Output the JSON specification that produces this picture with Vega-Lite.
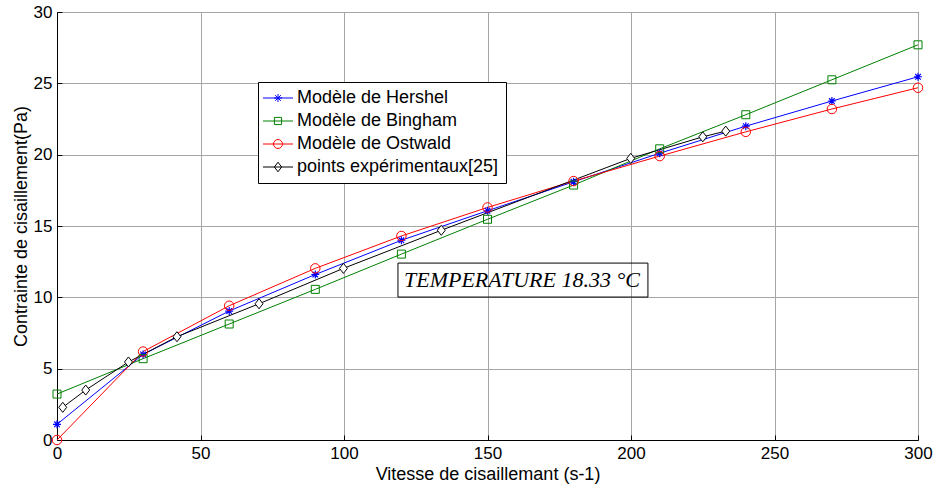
{
  "$schema": "https://vega.github.io/schema/vega-lite/v6.json",
  "width": 861,
  "height": 428,
  "autosize": {"type": "none"},
  "padding": {"left": 57, "top": 12, "right": 21, "bottom": 48},
  "background": "white",
  "config": {
    "view": {"stroke": "black", "strokeWidth": 1},
    "font": "Liberation Sans",
    "axis": {
      "labelFont": "Liberation Sans",
      "titleFont": "Liberation Sans",
      "labelFontSize": 17,
      "titleFontSize": 18,
      "titleFontWeight": "normal",
      "labelColor": "black",
      "titleColor": "black",
      "domainColor": "black",
      "domainWidth": 1,
      "gridColor": "#a6a6a6",
      "gridWidth": 1,
      "gridOpacity": 1,
      "tickColor": "black",
      "tickSize": -5,
      "tickWidth": 1
    },
    "legend": {
      "labelFont": "Liberation Sans",
      "labelFontSize": 18,
      "labelColor": "black",
      "labelLimit": 400,
      "strokeColor": "black",
      "fillColor": "white",
      "padding": 7,
      "symbolOffset": 4,
      "labelOffset": 10,
      "rowPadding": 5,
      "symbolSize": 256,
      "symbolStrokeWidth": 1,
      "symbolFillColor": "transparent",
      "cornerRadius": 0
    }
  },
  "datasets": {
    "curves": [
      {"series": "Modèle de Hershel", "x": 0, "y": 1.1},
      {"series": "Modèle de Hershel", "x": 30, "y": 6.0},
      {"series": "Modèle de Hershel", "x": 60, "y": 9.04},
      {"series": "Modèle de Hershel", "x": 90, "y": 11.6},
      {"series": "Modèle de Hershel", "x": 120, "y": 14.0},
      {"series": "Modèle de Hershel", "x": 150, "y": 16.07},
      {"series": "Modèle de Hershel", "x": 180, "y": 18.1},
      {"series": "Modèle de Hershel", "x": 210, "y": 20.1},
      {"series": "Modèle de Hershel", "x": 240, "y": 22.0},
      {"series": "Modèle de Hershel", "x": 270, "y": 23.76},
      {"series": "Modèle de Hershel", "x": 300, "y": 25.46},
      {"series": "Modèle de Bingham", "x": 0, "y": 3.22},
      {"series": "Modèle de Bingham", "x": 30, "y": 5.7},
      {"series": "Modèle de Bingham", "x": 60, "y": 8.13},
      {"series": "Modèle de Bingham", "x": 90, "y": 10.56},
      {"series": "Modèle de Bingham", "x": 120, "y": 13.03},
      {"series": "Modèle de Bingham", "x": 150, "y": 15.47},
      {"series": "Modèle de Bingham", "x": 180, "y": 17.87},
      {"series": "Modèle de Bingham", "x": 210, "y": 20.41},
      {"series": "Modèle de Bingham", "x": 240, "y": 22.8},
      {"series": "Modèle de Bingham", "x": 270, "y": 25.25},
      {"series": "Modèle de Bingham", "x": 300, "y": 27.7},
      {"series": "Modèle de Ostwald", "x": 0, "y": 0},
      {"series": "Modèle de Ostwald", "x": 30, "y": 6.2},
      {"series": "Modèle de Ostwald", "x": 60, "y": 9.41},
      {"series": "Modèle de Ostwald", "x": 90, "y": 12.03},
      {"series": "Modèle de Ostwald", "x": 120, "y": 14.3},
      {"series": "Modèle de Ostwald", "x": 150, "y": 16.3},
      {"series": "Modèle de Ostwald", "x": 180, "y": 18.15},
      {"series": "Modèle de Ostwald", "x": 210, "y": 19.9},
      {"series": "Modèle de Ostwald", "x": 240, "y": 21.6},
      {"series": "Modèle de Ostwald", "x": 270, "y": 23.2},
      {"series": "Modèle de Ostwald", "x": 300, "y": 24.69},
      {"series": "points expérimentaux[25]", "x": 2.0, "y": 2.29},
      {"series": "points expérimentaux[25]", "x": 10, "y": 3.5},
      {"series": "points expérimentaux[25]", "x": 24.9, "y": 5.47},
      {"series": "points expérimentaux[25]", "x": 41.8, "y": 7.24},
      {"series": "points expérimentaux[25]", "x": 70.4, "y": 9.55},
      {"series": "points expérimentaux[25]", "x": 99.8, "y": 12.03},
      {"series": "points expérimentaux[25]", "x": 133.9, "y": 14.7},
      {"series": "points expérimentaux[25]", "x": 199.9, "y": 19.74},
      {"series": "points expérimentaux[25]", "x": 225, "y": 21.25},
      {"series": "points expérimentaux[25]", "x": 233, "y": 21.65}
    ],
    "box": [{"x1": 118.8, "x2": 205.9, "y1": 10.02, "y2": 12.4}],
    "note": [{"x": 120.9, "y": 11.2, "text": "TEMPERATURE 18.33 °C"}]
  },
  "layer": [
    {
      "data": {"name": "curves"},
      "mark": {"type": "line", "strokeWidth": 1, "clip": false},
      "encoding": {
        "x": {"field": "x", "type": "quantitative", "scale": {"domain": [0, 300], "nice": false},
          "axis": {"values": [0, 50, 100, 150, 200, 250, 300], "title": "Vitesse de cisaillemant (s-1)", "grid": true, "labelPadding": 10, "titlePadding": 4, "labelFlush": false}},
        "y": {"field": "y", "type": "quantitative", "scale": {"domain": [0, 30], "nice": false},
          "axis": {"values": [0, 5, 10, 15, 20, 25, 30], "title": "Contrainte de cisaillement(Pa)", "grid": true, "labelPadding": 10, "titlePadding": 3, "labelFlush": false}},
        "color": {"field": "series", "type": "nominal",
          "scale": {"domain": ["Modèle de Hershel", "Modèle de Bingham", "Modèle de Ostwald", "points expérimentaux[25]"], "range": ["#0000ff", "#008000", "#ff0000", "#000000"]},
          "legend": {"orient": "none", "legendX": 201, "legendY": 70, "title": null}},
        "detail": {"field": "series"}
      }
    },
    {
      "data": {"name": "curves"},
      "transform": [{"filter": {"field": "series", "equal": "Modèle de Hershel"}}],
      "mark": {"type": "point", "shape": "M-1,0L1,0M0,-1L0,1M-0.7,-0.7L0.7,0.7M-0.7,0.7L0.7,-0.7", "size": 64, "filled": false, "color": "#0000ff", "strokeWidth": 1.2, "opacity": 1, "clip": false},
      "encoding": {"x": {"field": "x", "type": "quantitative"}, "y": {"field": "y", "type": "quantitative"}}
    },
    {
      "data": {"name": "curves"},
      "transform": [{"filter": {"field": "series", "equal": "Modèle de Bingham"}}],
      "mark": {"type": "point", "shape": "square", "size": 64, "filled": false, "color": "#008000", "strokeWidth": 1, "opacity": 1, "clip": false},
      "encoding": {"x": {"field": "x", "type": "quantitative"}, "y": {"field": "y", "type": "quantitative"}}
    },
    {
      "data": {"name": "curves"},
      "transform": [{"filter": {"field": "series", "equal": "Modèle de Ostwald"}}],
      "mark": {"type": "point", "shape": "circle", "size": 90, "filled": false, "color": "#ff0000", "strokeWidth": 1, "opacity": 1, "clip": false},
      "encoding": {"x": {"field": "x", "type": "quantitative"}, "y": {"field": "y", "type": "quantitative"}}
    },
    {
      "data": {"name": "curves"},
      "transform": [{"filter": {"field": "series", "equal": "points expérimentaux[25]"}}],
      "mark": {"type": "point", "shape": "M0,-1.2L0.95,0L0,1.2L-0.95,0Z", "size": 70, "filled": true, "fill": "white", "stroke": "#000000", "strokeWidth": 1, "opacity": 1, "clip": false},
      "encoding": {"x": {"field": "x", "type": "quantitative"}, "y": {"field": "y", "type": "quantitative"}}
    },
    {
      "data": {"name": "curves"},
      "transform": [{"filter": {"field": "x", "lt": -1000}}],
      "mark": {"type": "point", "filled": false, "strokeWidth": 1, "opacity": 1},
      "encoding": {
        "x": {"field": "x", "type": "quantitative"},
        "y": {"field": "y", "type": "quantitative"},
        "color": {"field": "series", "type": "nominal",
          "legend": {"orient": "none", "legendX": 201, "legendY": 70, "title": null}},
        "shape": {"field": "series", "type": "nominal",
          "scale": {"domain": ["Modèle de Hershel", "Modèle de Bingham", "Modèle de Ostwald", "points expérimentaux[25]"],
            "range": [
              "M-1.875,0H1.875M-0.5,0H0.5M0,-0.5V0.5M-0.35,-0.35L0.35,0.35M-0.35,0.35L0.35,-0.35",
              "M-1.875,0H1.875M-0.45,-0.45H0.45V0.45H-0.45Z",
              "M-1.875,0H1.875M0.56,0A0.56,0.56 0 1,1 -0.56,0A0.56,0.56 0 1,1 0.56,0Z",
              "M-1.875,0H1.875M0,-0.6L0.45,0L0,0.6L-0.45,0Z"
            ]},
          "legend": {"orient": "none", "legendX": 201, "legendY": 70, "title": null}}
      }
    },
    {
      "data": {"name": "box"},
      "mark": {"type": "rect", "fill": null, "fillOpacity": 0, "stroke": "black", "strokeWidth": 1},
      "encoding": {
        "x": {"field": "x1", "type": "quantitative"},
        "x2": {"field": "x2"},
        "y": {"field": "y1", "type": "quantitative"},
        "y2": {"field": "y2"}
      }
    },
    {
      "data": {"name": "note"},
      "mark": {"type": "text", "align": "left", "baseline": "middle", "font": "Liberation Serif", "fontStyle": "italic", "fontSize": 22, "color": "black"},
      "encoding": {
        "x": {"field": "x", "type": "quantitative"},
        "y": {"field": "y", "type": "quantitative"},
        "text": {"field": "text"}
      }
    }
  ]
}
